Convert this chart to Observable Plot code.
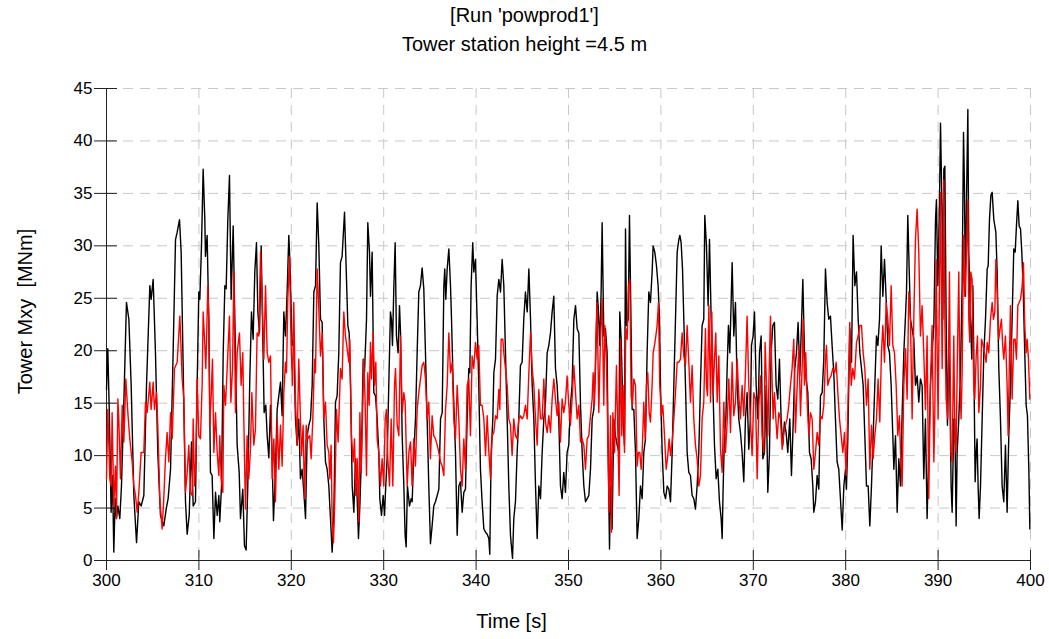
<!DOCTYPE html>
<html><head><meta charset="utf-8">
<script src="https://cdn.jsdelivr.net/npm/d3@7"></script>
<script src="https://cdn.jsdelivr.net/npm/@observablehq/plot@0.6"></script>
<style>
body{margin:0;background:#fff;font-family:"Liberation Sans",Arial,sans-serif;}
#title{width:1049px;height:60px;padding-top:1px;box-sizing:border-box;text-align:center;font-size:20px;line-height:29px;color:#000;}
#chart svg{display:block;}
</style></head><body>
<div id="title"></div>
<div id="chart"></div>
<script>
const titleLines = ["[Run 'powprod1']", "Tower station height =4.5 m"];
const xLabel = "Time [s]";
const yLabel = "Tower Mxy  [MNm]";
const xTicks = [300,310,320,330,340,350,360,370,380,390,400];
const yTicks = [0,5,10,15,20,25,30,35,40,45];

// black series: [time s, Mxy MNm]
const blackSeries = [
[300.0,16.3],[300.14,20.2],[300.32,13.5],[300.5,4.6],[300.65,8.1],[300.79,0.8],[300.94,5.9],[301.08,4.0],[301.23,5.2],[301.44,4.0],[301.62,7.1],[301.88,15.1],[302.16,24.6],[302.42,23.0],[302.67,16.7],[302.96,6.2],[303.25,1.7],[303.5,5.6],[303.75,5.2],[304.04,6.2],[304.33,16.7],[304.69,26.2],[304.83,24.9],[305.05,26.8],[305.3,19.8],[305.55,10.3],[305.84,4.3],[306.2,3.3],[306.46,4.9],[306.67,5.9],[306.93,8.7],[307.21,19.8],[307.47,30.6],[307.65,31.3],[307.9,32.5],[308.08,29.4],[308.3,18.3],[308.55,5.6],[308.73,2.5],[308.95,4.3],
[309.2,11.3],[309.38,5.2],[309.63,5.6],[309.81,16.7],[309.99,25.6],[310.1,24.9],[310.28,30.0],[310.46,37.3],[310.64,32.5],[310.71,29.0],[310.89,31.0],[311.07,23.0],[311.25,8.4],[311.43,8.1],[311.62,2.1],[311.8,6.5],[311.98,4.3],[312.16,6.2],[312.26,3.7],[312.45,7.1],[312.63,19.8],[312.81,26.2],[312.95,25.9],[313.13,32.5],[313.31,36.7],[313.49,24.9],[313.71,31.9],[313.89,23.0],[314.14,11.0],[314.36,8.4],[314.5,4.0],[314.75,6.8],[314.93,1.4],[315.11,1.0],[315.29,7.1],[315.51,17.3],[315.69,23.7],[315.87,21.1],[316.05,27.5],[316.23,30.3],[316.38,23.7],[316.56,21.7],[316.74,30.0],[316.88,23.0],[317.06,14.1],[317.24,14.8],[317.39,11.9],[317.57,9.8],[317.75,14.8],[317.93,9.7],[318.07,3.8],[318.25,7.8],[318.47,14.4],[318.69,16.0],
[318.83,17.0],[319.01,13.8],[319.19,23.7],[319.37,21.4],[319.55,25.6],[319.73,31.0],[319.84,28.7],[320.09,20.5],[320.27,21.1],[320.45,13.5],[320.63,11.0],[320.81,13.5],[320.99,7.8],[321.17,8.7],[321.36,6.5],[321.54,4.0],[321.72,11.9],[321.9,12.9],[322.08,13.5],[322.26,16.7],[322.44,25.6],[322.62,26.2],[322.8,34.1],[322.98,30.0],[323.16,23.0],[323.34,22.7],[323.52,13.5],[323.7,9.4],[323.88,8.7],[324.06,7.1],[324.24,4.0],[324.42,0.8],[324.6,4.0],[324.78,15.1],[324.96,15.7],[325.14,19.8],[325.32,28.4],[325.5,29.0],[325.76,33.2],[325.94,27.8],[326.12,22.4],[326.26,21.7],[326.41,16.7],[326.59,7.1],[326.77,4.6],[326.95,9.7],[327.13,5.9],[327.27,2.1],[327.42,5.2],[327.6,10.3],[327.78,19.2],[327.92,17.9],[328.14,23.0],[328.28,32.2],[328.46,29.4],[328.57,25.2],
[328.75,29.4],[328.93,16.0],[329.11,15.7],[329.29,13.5],[329.47,10.3],[329.58,5.9],[329.76,4.3],[329.94,6.2],[330.09,4.3],[330.19,6.5],[330.37,9.7],[330.55,16.7],[330.73,23.7],[330.84,23.0],[330.95,20.5],[331.1,26.2],[331.24,30.3],[331.38,21.4],[331.56,19.8],[331.71,24.3],[331.82,21.7],[332.0,11.9],[332.18,7.1],[332.32,2.4],[332.43,1.3],[332.57,7.1],[332.79,5.2],[332.97,5.9],[333.08,5.6],[333.26,10.3],[333.44,13.5],[333.62,19.8],[333.8,25.6],[333.98,26.2],[334.16,27.9],[334.34,25.9],[334.52,19.8],[334.7,13.5],[334.88,7.1],[335.06,1.6],[335.24,3.3],[335.42,5.2],[335.6,5.6],[335.79,6.2],[335.97,6.8],[336.15,13.5],[336.33,14.1],[336.51,26.2],[336.61,27.8],[336.72,24.9],[336.87,27.8],[337.05,29.7],[337.23,26.2],[337.34,23.0],[337.52,16.7],[337.77,10.3],[337.95,2.4],[338.13,7.1],[338.31,7.5],
[338.49,4.6],[338.67,6.5],[338.85,6.8],[339.03,13.5],[339.21,18.3],[339.32,17.9],[339.46,26.2],[339.64,30.3],[339.75,27.5],[339.93,28.7],[340.11,23.0],[340.29,16.7],[340.47,8.7],[340.65,5.6],[340.84,3.0],[341.02,2.7],[341.2,2.5],[341.38,2.1],[341.48,0.6],[341.63,10.3],[341.81,13.5],[341.92,17.9],[342.1,19.2],[342.28,25.2],[342.46,26.8],[342.64,25.6],[342.82,28.7],[343.0,26.2],[343.18,19.8],[343.36,13.5],[343.54,7.1],[343.72,2.4],[343.94,0.2],[344.08,4.0],[344.26,5.6],[344.44,10.3],[344.62,13.5],[344.8,18.6],[344.98,18.9],[345.16,23.0],[345.34,25.6],[345.53,23.7],[345.71,27.8],[345.89,23.0],[346.07,16.7],[346.25,13.5],[346.43,7.1],[346.61,2.1],[346.79,7.1],[346.97,5.9],[347.15,10.3],[347.33,13.5],[347.51,15.1],[347.69,19.8],[347.87,20.5],[348.05,21.7],
[348.23,23.7],[348.41,25.2],[348.59,18.3],[348.77,16.7],[348.95,13.5],[349.13,7.1],[349.31,5.9],[349.49,8.4],[349.67,6.5],[349.85,10.3],[350.03,11.0],[350.21,14.8],[350.39,16.7],[350.58,23.0],[350.76,24.3],[350.94,22.1],[351.12,21.7],[351.3,14.8],[351.48,10.3],[351.66,7.1],[351.84,5.6],[352.02,5.9],[352.2,6.2],[352.38,8.7],[352.56,13.5],[352.74,14.4],[352.92,18.3],[353.1,25.6],[353.21,24.3],[353.39,20.5],[353.53,25.6],[353.64,32.2],[353.82,21.4],[354.0,22.1],[354.18,19.8],[354.29,10.3],[354.44,1.1],[354.54,7.1],[354.72,3.0],[354.9,13.5],[355.08,11.9],[355.27,11.0],[355.45,10.3],[355.55,23.7],[355.7,21.1],[355.91,13.5],[356.06,11.0],[356.17,31.6],[356.28,22.4],[356.46,23.0],[356.6,32.9],[356.71,26.2],[356.89,14.4],[357.07,14.4],[357.25,10.3],[357.43,2.1],[357.61,4.0],[357.79,7.1],
[357.97,5.9],[358.15,10.3],[358.33,11.6],[358.51,19.8],[358.69,25.6],[358.87,24.6],[359.05,27.5],[359.16,30.0],[359.34,29.4],[359.52,28.1],[359.7,26.2],[359.85,23.0],[359.95,16.7],[360.14,10.3],[360.32,6.5],[360.5,5.9],[360.68,7.1],[360.86,6.8],[361.04,5.6],[361.22,10.3],[361.4,16.7],[361.58,23.0],[361.76,29.4],[361.94,30.6],[362.05,31.0],[362.19,30.3],[362.34,27.8],[362.48,23.0],[362.66,16.7],[362.84,10.3],[363.02,8.4],[363.2,8.1],[363.38,6.2],[363.56,5.9],[363.74,4.9],[363.92,7.1],[364.1,10.3],[364.28,16.7],[364.46,22.4],[364.64,23.0],[364.75,32.9],[364.93,30.0],[365.11,24.3],[365.26,30.6],[365.44,23.0],[365.62,16.7],[365.8,11.0],[365.98,7.8],[366.16,8.7],[366.34,5.6],[366.52,4.0],[366.63,2.1],[366.74,7.1],[366.88,11.9],[367.03,13.5],[367.17,18.3],[367.31,22.4],[367.46,19.8],[367.6,24.6],
[367.71,28.4],[367.89,21.4],[368.07,24.6],[368.25,16.7],[368.43,13.5],[368.61,12.2],[368.79,10.3],[368.97,7.5],[369.15,13.5],[369.33,16.0],[369.51,10.6],[369.69,13.5],[369.8,20.5],[369.98,21.4],[370.13,23.7],[370.31,16.7],[370.49,13.5],[370.67,19.8],[370.85,21.4],[371.03,9.7],[371.21,10.3],[371.39,16.7],[371.57,6.5],[371.75,10.3],[371.93,19.8],[372.11,22.4],[372.29,22.7],[372.47,16.7],[372.65,15.4],[372.83,19.2],[373.01,13.5],[373.19,11.0],[373.37,13.2],[373.55,12.2],[373.73,10.3],[373.95,13.5],[374.13,8.1],[374.31,12.9],[374.49,18.3],[374.67,19.8],[374.85,22.7],[375.03,17.6],[375.21,22.4],[375.36,26.8],[375.54,19.8],[375.72,17.3],[375.9,16.0],[376.08,10.3],[376.26,9.7],[376.44,7.1],[376.55,4.6],[376.73,5.6],[376.91,8.1],[377.09,6.8],[377.27,15.7],
[377.45,16.0],[377.63,19.2],[377.81,27.8],[377.99,24.6],[378.17,23.0],[378.35,23.3],[378.53,20.5],[378.71,17.9],[378.89,13.5],[379.07,9.4],[379.25,8.7],[379.43,5.9],[379.62,2.9],[379.8,7.1],[379.98,8.7],[380.08,6.8],[380.23,11.6],[380.44,22.1],[380.63,18.9],[380.8,31.0],[380.99,26.2],[381.17,27.5],[381.35,23.0],[381.53,19.8],[381.71,18.3],[381.89,16.7],[382.07,11.9],[382.25,7.1],[382.43,7.1],[382.61,3.3],[382.79,7.1],[382.97,11.9],[383.15,16.7],[383.33,21.4],[383.48,20.5],[383.66,23.0],[383.84,30.0],[384.02,25.2],[384.2,28.7],[384.38,24.9],[384.56,20.5],[384.74,19.8],[384.92,16.7],[385.1,11.9],[385.21,8.7],[385.39,11.9],[385.57,4.6],[385.75,9.7],[385.93,7.1],[386.11,14.1],[386.29,19.8],[386.47,23.3],[386.58,25.6],[386.72,32.9],[386.87,27.8],[387.01,23.0],
[387.37,21.1],[387.55,16.7],[387.73,17.6],[387.91,15.1],[388.09,17.3],[388.27,16.7],[388.45,7.8],[388.63,13.5],[388.81,4.0],[388.99,10.3],[389.17,16.7],[389.35,19.8],[389.54,22.4],[389.72,32.5],[389.82,34.4],[389.97,26.2],[390.15,34.1],[390.26,41.7],[390.44,32.5],[390.51,23.0],[390.62,37.3],[390.73,37.6],[390.87,23.0],[391.01,12.9],[391.16,19.8],[391.27,16.7],[391.41,7.1],[391.52,4.6],[391.7,13.5],[391.81,13.5],[391.95,3.3],[392.06,10.3],[392.24,13.5],[392.42,17.9],[392.6,26.2],[392.75,40.8],[392.85,35.7],[392.96,25.2],[393.07,34.1],[393.22,43.0],[393.32,29.4],[393.5,23.0],[393.65,19.2],[393.76,26.2],[393.86,19.8],[394.01,7.5],[394.12,10.3],[394.22,11.6],[394.33,7.1],[394.44,4.0],[394.59,7.1],[394.77,13.5],[394.95,19.8],[395.13,23.0],[395.31,27.8],[395.42,28.1],[395.56,32.5],[395.71,34.8],[395.85,35.1],[396.03,32.5],[396.14,31.9],[396.25,31.3],[396.39,27.5],[396.57,18.3],[396.75,13.5],[396.93,7.1],[397.11,5.6],[397.29,11.0],[397.47,4.6],[397.65,11.9],[397.83,16.7],[398.01,23.0],[398.19,29.7],[398.34,29.4],[398.48,31.9],[398.63,34.3],[398.77,31.9],[398.92,31.6],[399.06,29.4],[399.2,26.2],[399.38,19.8],[399.53,14.8],[399.67,13.8],[399.82,8.7],[399.93,3.0]
];

// red series: [time s, Mxy MNm]
const redSeries = [
[300.0,7.8],[300.14,14.4],[300.36,7.8],[300.5,7.1],[300.61,14.1],[300.79,5.2],[300.97,9.0],[301.08,4.0],[301.23,15.4],[301.33,13.5],[301.51,7.8],[301.7,14.8],[301.88,11.3],[302.09,17.3],[302.31,14.1],[302.52,11.6],[302.78,9.4],[302.96,7.1],[303.14,6.2],[303.32,4.6],[303.5,6.5],[303.75,10.3],[304.04,10.3],[304.22,15.1],[304.4,14.1],[304.69,17.0],[304.83,14.4],[305.05,17.0],[305.19,14.4],[305.41,16.0],[305.55,12.9],[305.77,5.9],[306.02,3.0],[306.2,5.9],[306.38,9.7],[306.56,12.2],[306.75,9.4],[306.93,14.1],[307.11,11.6],[307.36,18.3],[307.65,18.9],[307.94,23.3],[308.19,17.3],[308.37,15.4],[308.55,6.5],[308.73,8.4],[308.91,11.0],[309.09,6.5],
[309.27,6.2],[309.38,13.5],[309.52,7.1],[309.67,9.7],[309.81,17.3],[309.99,11.9],[310.17,11.6],[310.35,16.7],[310.46,23.7],[310.61,21.1],[310.75,18.3],[310.97,26.2],[311.07,23.0],[311.18,12.9],[311.33,15.7],[311.47,19.2],[311.62,10.3],[311.8,14.1],[311.98,10.3],[312.16,8.1],[312.26,11.9],[312.41,7.8],[312.59,6.5],[312.7,16.7],[312.88,14.8],[313.06,18.3],[313.31,23.3],[313.46,15.1],[313.64,18.3],[313.78,27.5],[313.96,14.1],[314.14,19.8],[314.39,21.7],[314.57,16.7],[314.75,19.8],[314.86,13.5],[315.04,4.9],[315.22,11.9],[315.4,7.8],[315.58,10.6],[315.73,16.0],[315.94,11.0],[316.12,12.5],[316.3,21.7],[316.49,21.4],[316.67,29.4],[316.85,24.9],[317.03,19.2],[317.21,26.2],[317.39,19.8],[317.57,18.9],[317.75,19.5],[317.93,7.8],[318.11,11.6],[318.29,5.6],[318.47,13.5],[318.65,8.7],
[318.83,12.9],[319.01,9.0],[319.19,16.0],[319.37,18.9],[319.48,17.9],[319.62,24.9],[319.8,29.0],[319.98,20.5],[320.13,16.7],[320.27,24.6],[320.45,15.1],[320.63,11.0],[320.81,19.2],[320.99,13.5],[321.1,10.0],[321.28,12.9],[321.43,5.9],[321.61,12.9],[321.79,11.6],[322.0,11.9],[322.15,9.7],[322.33,13.5],[322.51,19.2],[322.62,17.9],[322.8,27.8],[322.94,24.9],[323.16,19.5],[323.34,21.7],[323.52,13.5],[323.7,15.1],[323.88,11.0],[324.06,10.3],[324.17,7.8],[324.31,11.0],[324.42,4.0],[324.57,1.7],[324.71,5.9],[324.89,14.4],[325.07,11.3],[325.32,18.3],[325.5,17.3],[325.68,23.7],[325.86,21.4],[326.05,20.2],[326.23,18.9],[326.33,21.1],[326.51,11.9],[326.69,9.4],[326.84,11.6],[326.98,6.2],[327.13,9.7],[327.31,3.7],[327.42,14.1],[327.56,8.4],[327.7,13.5],[327.85,19.2],[327.99,15.1],[328.14,8.1],[328.28,17.9],[328.43,14.8],[328.57,20.8],
[328.68,17.3],[328.86,21.7],[329.0,16.7],[329.15,18.9],[329.29,11.6],[329.47,10.3],[329.65,7.1],[329.83,9.7],[330.01,7.1],[330.16,13.5],[330.3,14.4],[330.45,9.7],[330.63,7.1],[330.81,13.5],[330.99,7.1],[331.17,16.7],[331.28,18.3],[331.46,12.9],[331.64,11.9],[331.82,21.4],[332.0,14.1],[332.18,16.0],[332.32,15.1],[332.54,7.1],[332.72,10.3],[332.9,11.3],[333.08,7.1],[333.26,11.6],[333.44,9.0],[333.62,14.4],[333.8,16.0],[333.98,17.3],[334.16,18.6],[334.34,18.9],[334.52,17.3],[334.7,13.5],[334.88,15.1],[335.06,9.7],[335.24,13.8],[335.42,11.9],[335.6,11.6],[335.79,11.0],[335.97,10.3],[336.15,9.4],[336.33,9.0],[336.51,8.1],[336.69,14.4],[336.87,16.7],[337.05,21.7],[337.23,17.9],[337.41,18.9],[337.59,13.5],[337.77,11.6],[337.95,16.7],[338.13,13.5],[338.31,8.7],
[338.49,7.1],[338.67,11.6],[338.85,8.7],[339.03,16.7],[339.21,17.3],[339.39,11.9],[339.57,19.5],[339.75,18.3],[339.93,20.8],[340.11,19.2],[340.29,20.5],[340.47,14.8],[340.65,14.8],[340.84,13.5],[341.02,10.0],[341.2,13.8],[341.38,10.3],[341.56,7.8],[341.74,11.9],[341.92,12.2],[342.1,13.8],[342.28,13.5],[342.46,16.3],[342.57,14.4],[342.71,21.1],[342.89,21.1],[343.0,19.8],[343.18,18.3],[343.36,16.7],[343.54,13.5],[343.72,12.9],[343.9,10.0],[344.08,13.5],[344.26,11.9],[344.44,11.6],[344.62,13.5],[344.8,13.8],[344.98,13.5],[345.16,13.8],[345.34,14.8],[345.53,13.5],[345.71,17.9],[345.89,21.7],[346.07,18.3],[346.25,16.7],[346.43,13.5],[346.61,11.0],[346.79,16.3],[346.97,13.5],[347.15,13.5],[347.33,17.3],[347.51,13.2],[347.69,12.2],[347.87,13.8],[348.05,12.2],
[348.23,15.4],[348.41,17.3],[348.59,15.4],[348.77,13.8],[348.95,15.1],[349.13,11.3],[349.31,15.4],[349.49,14.1],[349.67,15.1],[349.85,17.6],[350.03,14.8],[350.21,12.9],[350.39,15.4],[350.58,18.6],[350.76,16.0],[350.94,13.5],[351.12,14.8],[351.3,11.3],[351.48,11.6],[351.66,11.0],[351.84,8.7],[352.02,11.6],[352.2,11.9],[352.38,13.8],[352.56,15.4],[352.67,17.9],[352.81,14.8],[352.96,20.8],[353.1,24.6],[353.28,14.1],[353.46,21.1],[353.64,24.9],[353.82,14.8],[353.93,22.4],[354.11,18.9],[354.25,12.2],[354.4,4.6],[354.54,13.8],[354.65,2.7],[354.8,14.1],[354.98,10.3],[355.19,18.6],[355.34,12.2],[355.48,6.2],[355.63,21.1],[355.77,11.9],[355.91,16.7],[356.06,10.3],[356.2,22.1],[356.35,21.1],[356.49,26.2],[356.64,26.8],[356.78,15.7],[356.92,14.8],[357.07,17.3],[357.25,16.7],[357.43,9.0],[357.57,10.3],[357.72,10.3],[357.86,8.7],
[357.97,10.3],[358.15,15.1],[358.3,11.6],[358.44,16.7],[358.58,17.9],[358.73,14.1],[358.87,13.2],[359.05,16.7],[359.16,19.8],[359.31,20.5],[359.45,21.4],[359.59,22.4],[359.74,24.6],[359.88,16.7],[360.06,13.8],[360.21,14.8],[360.39,11.9],[360.57,8.7],[360.71,9.7],[360.89,11.6],[361.04,10.0],[361.22,11.3],[361.4,13.5],[361.58,16.0],[361.76,18.9],[361.94,18.9],[362.12,19.2],[362.3,21.7],[362.48,19.5],[362.66,18.6],[362.84,22.4],[363.02,18.9],[363.2,15.1],[363.38,18.6],[363.56,13.5],[363.74,11.0],[363.92,9.7],[364.1,7.1],[364.28,8.1],[364.46,13.5],[364.64,15.1],[364.82,22.1],[364.93,16.7],[365.04,15.7],[365.19,24.3],[365.37,15.1],[365.51,23.7],[365.65,16.0],[365.8,19.2],[365.94,21.7],[366.09,15.1],[366.27,19.5],[366.45,10.6],[366.63,8.4],[366.81,15.1],[366.99,10.3],[367.17,13.2],[367.35,17.3],[367.53,12.2],
[367.71,18.9],[367.89,13.8],[368.07,15.1],[368.25,19.2],[368.43,15.7],[368.61,13.5],[368.79,16.7],[368.97,13.8],[369.15,17.9],[369.33,23.3],[369.51,16.7],[369.69,13.5],[369.87,10.0],[370.06,16.0],[370.24,15.4],[370.42,7.8],[370.6,14.8],[370.78,17.6],[370.96,11.9],[371.14,10.3],[371.28,20.8],[371.43,16.7],[371.57,11.9],[371.71,17.9],[371.86,23.3],[372.0,18.3],[372.15,13.5],[372.29,16.0],[372.44,13.5],[372.58,11.6],[372.76,14.1],[372.94,13.5],[373.12,10.6],[373.3,12.2],[373.48,12.9],[373.66,13.5],[373.84,14.8],[374.02,16.7],[374.2,18.3],[374.38,21.1],[374.56,12.2],[374.75,16.7],[374.93,20.5],[375.11,13.8],[375.29,18.6],[375.39,23.0],[375.54,16.7],[375.68,19.8],[375.83,15.1],[376.01,11.9],[376.19,14.1],[376.37,13.5],[376.55,8.7],[376.73,10.3],[376.91,12.2],[377.09,11.0],[377.27,13.8],
[377.45,13.5],[377.63,14.8],[377.81,19.2],[377.92,20.5],[378.06,16.7],[378.24,17.3],[378.42,17.6],[378.6,18.3],[378.82,17.9],[378.97,18.9],[379.15,16.0],[379.33,13.5],[379.51,11.9],[379.69,10.3],[379.87,12.2],[380.05,8.1],[380.23,14.4],[380.44,22.7],[380.59,16.7],[380.77,18.3],[380.95,17.3],[381.17,20.8],[381.35,21.4],[381.53,22.4],[381.71,22.4],[381.89,19.8],[382.07,18.3],[382.25,14.8],[382.43,17.3],[382.61,8.7],[382.79,12.9],[382.97,9.7],[383.15,11.9],[383.33,13.5],[383.51,17.3],[383.69,13.2],[383.87,19.8],[384.02,22.4],[384.2,18.9],[384.38,24.6],[384.56,23.0],[384.74,20.5],[384.92,26.2],[385.1,20.5],[385.28,19.8],[385.46,16.7],[385.64,11.9],[385.82,13.8],[385.93,10.3],[386.11,7.1],[386.29,16.7],[386.47,20.2],[386.65,15.4],[386.83,25.6],[387.01,23.0],[387.19,13.5],[387.37,23.0],[387.55,30.6],[387.73,33.5],[387.91,29.4],
[388.09,21.4],[388.27,24.3],[388.45,19.8],[388.63,14.4],[388.81,21.4],[388.99,5.9],[389.17,16.7],[389.35,22.4],[389.54,9.4],[389.64,13.5],[389.79,28.7],[389.9,19.8],[390.0,13.5],[390.15,26.2],[390.26,35.1],[390.44,18.3],[390.62,36.3],[390.73,23.0],[390.87,15.4],[391.05,13.5],[391.23,27.5],[391.38,10.3],[391.52,9.4],[391.7,21.4],[391.81,11.9],[391.95,10.3],[392.06,17.9],[392.24,27.5],[392.35,17.3],[392.49,13.5],[392.6,17.9],[392.75,31.0],[392.89,25.2],[393.07,29.4],[393.22,34.4],[393.32,23.0],[393.43,20.8],[393.54,27.5],[393.68,26.8],[393.86,16.7],[393.97,15.4],[394.12,19.5],[394.26,21.4],[394.41,14.1],[394.59,16.7],[394.7,21.1],[394.87,20.5],[395.02,19.8],[395.2,18.9],[395.31,20.8],[395.49,19.8],[395.67,23.0],[395.85,24.6],[395.99,23.0],[396.14,23.7],[396.25,28.7],[396.39,25.6],[396.57,21.1],[396.75,22.4],[396.86,23.0],[396.99,20.5],[397.11,19.2],[397.29,21.4],[397.47,16.7],[397.58,11.9],[397.72,19.2],[397.83,24.3],[398.01,15.4],[398.19,21.1],[398.34,21.1],[398.48,19.2],[398.63,24.3],[398.77,24.6],[398.92,24.9],[399.1,26.2],[399.24,28.4],[399.38,22.4],[399.53,19.8],[399.64,21.1],[399.78,19.2],[399.93,15.4]
];

document.getElementById("title").innerHTML = titleLines.map(s => `<div>${s.replace(/&/g,"&amp;").replace(/</g,"&lt;")}</div>`).join("");

const black = blackSeries.map(([t, v]) => ({t, v}));
const red = redSeries.map(([t, v]) => ({t, v}));

const fontFamily = '"Liberation Sans", Arial, sans-serif';
const chart = Plot.plot({
  width: 1049,
  height: 579,
  marginLeft: 106,
  marginRight: 19,
  marginTop: 28,
  marginBottom: 79,
  style: {fontFamily, fontSize: "17px", color: "#000", background: "#fff"},
  x: {domain: [300, 400]},
  y: {domain: [0, 45]},
  marks: [
    Plot.gridX(xTicks, {stroke: "#c8c8c8", strokeOpacity: 1, strokeDasharray: "10,7"}),
    Plot.gridY(yTicks, {stroke: "#c8c8c8", strokeOpacity: 1, strokeDasharray: "10,7"}),
    Plot.ruleX([300], {stroke: "#222"}),
    Plot.ruleY([0], {stroke: "#222"}),
    Plot.axisX(xTicks, {anchor: "bottom", tickSize: 20, dy: -10, tickPadding: 3, stroke: "#222", label: null, fontSize: 17}),
    Plot.axisY(yTicks, {anchor: "left", tickSize: 23, dx: 11, tickPadding: 2, stroke: "#222", label: null, fontSize: 17}),
    Plot.line(black, {x: "t", y: "v", stroke: "#000", strokeWidth: 1.4}),
    Plot.line(red, {x: "t", y: "v", stroke: "#ff0000", strokeWidth: 1.4}),
    Plot.text([xLabel], {frameAnchor: "bottom", textAnchor: "middle", dy: 67, dx: -57, fontSize: 20, text: d => d}),
    Plot.text([yLabel], {frameAnchor: "left", textAnchor: "middle", dx: -81, dy: -13, rotate: -90, fontSize: 20, text: d => d})
  ]
});
document.getElementById("chart").appendChild(chart);
</script>
</body></html>
